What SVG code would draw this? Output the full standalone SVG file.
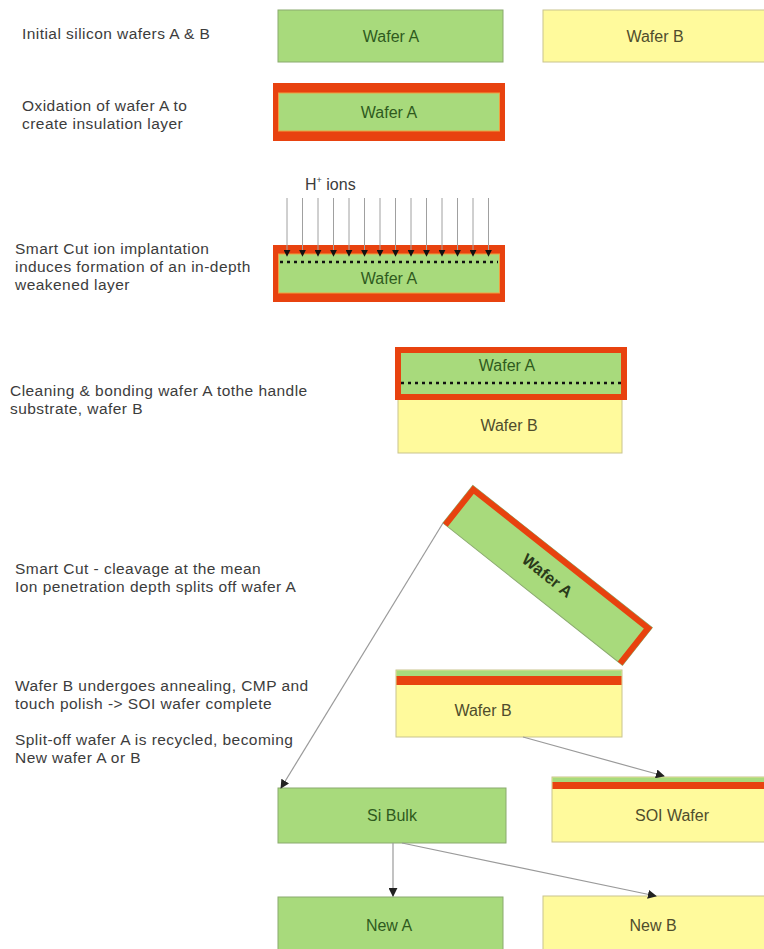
<svg xmlns="http://www.w3.org/2000/svg" width="764" height="949" viewBox="0 0 764 949">
<defs>
<marker id="arr" viewBox="0 0 10 10" refX="9" refY="5" markerWidth="9" markerHeight="9" markerUnits="userSpaceOnUse" orient="auto">
<path d="M0,0 L10,5 L0,10 z" fill="#222"/>
</marker>
<marker id="ion" viewBox="0 0 10 10" refX="9" refY="5" markerWidth="7" markerHeight="7" markerUnits="userSpaceOnUse" orient="auto">
<path d="M0,0 L10,5 L0,10 z" fill="#111"/>
</marker>
<style>
.lbl{font-family:"Liberation Sans",Arial,sans-serif;font-size:15.5px;letter-spacing:0.45px;fill:#3c3c3c}
.nt{font-family:"Liberation Sans",Arial,sans-serif;font-size:16px;text-anchor:middle}
.ga{fill:#2f5a1e}
.yb{fill:#4f4d2c}
.green{fill:#a8da7c;stroke:#8aaa6e;stroke-width:1}
.yellow{fill:#fffa9c;stroke:#c9c48e;stroke-width:1}
.red{fill:#e8420f}
.conn{stroke:#9a9a9a;stroke-width:1.2;fill:none;marker-end:url(#arr)}
.ionl{stroke:#a0a0a0;stroke-width:1;marker-end:url(#ion)}
.dots{stroke:#111;stroke-width:2.5;stroke-dasharray:3 4;fill:none}
</style>
</defs>
<rect width="764" height="949" fill="#ffffff"/>

<g id="labels">
<text class="lbl" x="22" y="39">Initial silicon wafers A &amp; B</text>
<text class="lbl" x="22" y="111">Oxidation of wafer A to</text>
<text class="lbl" x="22" y="129">create insulation layer</text>
<text class="lbl" x="15" y="254">Smart Cut ion implantation</text>
<text class="lbl" x="15" y="272">induces formation of an in-depth</text>
<text class="lbl" x="15" y="290">weakened layer</text>
<text class="lbl" x="10" y="396">Cleaning &amp; bonding wafer A tothe handle</text>
<text class="lbl" x="10" y="414">substrate, wafer B</text>
<text class="lbl" x="15" y="574">Smart Cut - cleavage at the mean</text>
<text class="lbl" x="15" y="592">Ion penetration depth splits off wafer A</text>
<text class="lbl" x="15" y="691">Wafer B undergoes annealing, CMP and</text>
<text class="lbl" x="15" y="709">touch polish -&gt; SOI wafer complete</text>
<text class="lbl" x="15" y="745">Split-off wafer A is recycled, becoming</text>
<text class="lbl" x="15" y="763">New wafer A or B</text>
</g>

<g id="wafer-a-initial">
<rect class="green" x="278" y="10" width="225" height="52"/>
<text class="nt ga" x="391" y="42">Wafer A</text>
</g>

<g id="wafer-b-initial">
<rect class="yellow" x="543" y="10" width="224" height="52"/>
<text class="nt yb" x="655" y="42">Wafer B</text>
</g>

<g id="wafer-a-oxidized">
<rect class="red" x="273" y="83" width="232" height="58"/>
<rect fill="#a8da7c" stroke="#f0a040" stroke-width="1" x="278.5" y="93" width="221" height="38"/>
<text class="nt ga" x="389" y="118">Wafer A</text>
</g>

<g id="wafer-a-implanted">
<rect class="red" x="273" y="245" width="232" height="57"/>
<rect fill="#a8da7c" stroke="#f0a040" stroke-width="1" x="278.5" y="254" width="221" height="39"/>
<line class="dots" x1="280" y1="262" x2="498" y2="262"/>
<text class="nt ga" x="389" y="284">Wafer A</text>
</g>

<g id="ion-implantation">
<text x="305" y="190" style="font-family:'Liberation Sans',Arial,sans-serif;font-size:16px;fill:#3c3c3c">H<tspan font-size="9" dy="-7">+</tspan><tspan dy="7"> ions</tspan></text>
<line class="ionl" x1="287" y1="198" x2="287" y2="256"/>
<line class="ionl" x1="302.5" y1="198" x2="302.5" y2="256"/>
<line class="ionl" x1="318" y1="198" x2="318" y2="256"/>
<line class="ionl" x1="333.5" y1="198" x2="333.5" y2="256"/>
<line class="ionl" x1="349" y1="198" x2="349" y2="256"/>
<line class="ionl" x1="364.5" y1="198" x2="364.5" y2="256"/>
<line class="ionl" x1="380" y1="198" x2="380" y2="256"/>
<line class="ionl" x1="395.5" y1="198" x2="395.5" y2="256"/>
<line class="ionl" x1="411" y1="198" x2="411" y2="256"/>
<line class="ionl" x1="426.5" y1="198" x2="426.5" y2="256"/>
<line class="ionl" x1="442" y1="198" x2="442" y2="256"/>
<line class="ionl" x1="457.5" y1="198" x2="457.5" y2="256"/>
<line class="ionl" x1="473" y1="198" x2="473" y2="256"/>
<line class="ionl" x1="488.5" y1="198" x2="488.5" y2="256"/>
</g>

<g id="bonded-stack">
<rect class="yellow" x="398" y="398" width="224" height="55"/>
<rect fill="#a8da7c" stroke="#e8420f" stroke-width="6" x="398" y="350" width="226" height="47"/>
<line class="dots" x1="401" y1="383" x2="623" y2="383"/>
<text class="nt ga" x="507" y="371">Wafer A</text>
<text class="nt yb" x="509" y="431">Wafer B</text>
</g>

<g id="wafer-a-split" transform="translate(443,523) rotate(38.4)">
<rect fill="#a8da7c" stroke="#8aaa6e" stroke-width="1" x="0" y="-48" width="229" height="48"/>
<path d="M3,0 L3,-45 L226,-45 L226,0" fill="none" stroke="#e8420f" stroke-width="6"/>
<text class="nt" x="114.5" y="-18" style="font-weight:bold;fill:#2a3a1a">Wafer A</text>
</g>

<g id="wafer-b-polished">
<rect class="yellow" x="396" y="670" width="226" height="67"/>
<rect fill="#a8da7c" x="396.5" y="670.5" width="225" height="6"/>
<rect class="red" x="396.5" y="676" width="225" height="9"/>
<text class="nt yb" x="483" y="716">Wafer B</text>
</g>

<g id="soi-wafer">
<rect class="yellow" x="552" y="777" width="215" height="65"/>
<rect fill="#a8da7c" x="552.5" y="777.5" width="214" height="5"/>
<rect class="red" x="552.5" y="782" width="214" height="7"/>
<text class="nt yb" x="672" y="821">SOI Wafer</text>
</g>

<g id="si-bulk">
<rect class="green" x="278" y="788" width="228" height="55"/>
<text class="nt ga" x="392" y="821">Si Bulk</text>
</g>

<g id="new-a">
<rect class="green" x="278" y="897" width="225" height="56"/>
<text class="nt ga" x="389" y="931">New A</text>
</g>

<g id="new-b">
<rect class="yellow" x="543" y="896" width="224" height="57"/>
<text class="nt yb" x="653" y="931">New B</text>
</g>

<g id="connectors">
<line class="conn" x1="443" y1="523" x2="281" y2="788"/>
<line class="conn" x1="523" y1="737" x2="664" y2="776"/>
<line class="conn" x1="393" y1="843" x2="393" y2="896"/>
<line class="conn" x1="402" y1="843" x2="656" y2="896"/>
</g>
</svg>
